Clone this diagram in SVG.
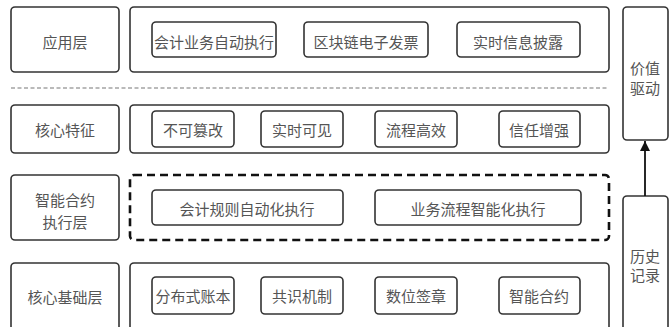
<svg xmlns="http://www.w3.org/2000/svg" width="672" height="327" viewBox="0 0 672 327">
<defs>
<style>
.b{fill:#fff;stroke:#333;stroke-width:1.6}
.i{fill:#fff;stroke:#333;stroke-width:1.6}
.t{font-family:"Noto Sans CJK SC","Noto Sans",sans-serif;font-size:15px;fill:#555;text-anchor:middle;dominant-baseline:central}
</style>
<marker id="ah" viewBox="0 0 10 10" refX="10" refY="5" markerWidth="10" markerHeight="12" markerUnits="userSpaceOnUse" orient="auto">
<path d="M0,0 L10,5 L0,10 z" fill="#111"/>
</marker>
</defs>
<rect width="672" height="327" fill="#fff"/>

<g id="app-layer">
<rect class="b" x="11" y="7" width="108" height="65" rx="4"/>
<text class="t" x="65" y="41">应用层</text>
<rect class="b" x="130" y="7" width="479" height="65" rx="4"/>
</g>
<g id="app-1"><rect class="i" x="152" y="22" width="124" height="35" rx="4"/><text class="t" x="214" y="41">会计业务自动执行</text></g>
<g id="app-2"><rect class="i" x="304" y="22" width="124" height="35" rx="4"/><text class="t" x="366" y="41">区块链电子发票</text></g>
<g id="app-3"><rect class="i" x="457" y="22" width="123" height="35" rx="4"/><text class="t" x="518" y="41">实时信息披露</text></g>

<line x1="11" y1="88" x2="609" y2="88" stroke="#777" stroke-width="1.2" stroke-dasharray="4,2.5"/>

<g id="core-feature">
<rect class="b" x="11" y="105" width="108" height="48" rx="4"/>
<text class="t" x="65" y="129">核心特征</text>
<rect class="b" x="130" y="105" width="479" height="48" rx="4"/>
</g>
<g id="cf-1"><rect class="i" x="152" y="111" width="82" height="36" rx="4"/><text class="t" x="193" y="129">不可篡改</text></g>
<g id="cf-2"><rect class="i" x="261" y="111" width="82" height="36" rx="4"/><text class="t" x="302" y="129">实时可见</text></g>
<g id="cf-3"><rect class="i" x="375" y="111" width="82" height="36" rx="4"/><text class="t" x="416" y="129">流程高效</text></g>
<g id="cf-4"><rect class="i" x="499" y="111" width="81" height="36" rx="4"/><text class="t" x="539" y="129">信任增强</text></g>

<g id="contract-layer">
<rect class="b" x="11" y="175" width="108" height="65" rx="4"/>
<text class="t" x="65" y="199">智能合约</text>
<text class="t" x="65" y="221">执行层</text>
<rect x="130" y="175" width="479" height="65" rx="4" fill="none" stroke="#111" stroke-width="2.6" stroke-dasharray="8,5"/>
</g>
<g id="ct-1"><rect class="i" x="152" y="190" width="191" height="35" rx="4"/><text class="t" x="247" y="208">会计规则自动化执行</text></g>
<g id="ct-2"><rect class="i" x="375" y="190" width="206" height="35" rx="4"/><text class="t" x="478" y="208">业务流程智能化执行</text></g>

<g id="base-layer">
<rect class="b" x="11" y="263" width="108" height="70" rx="4"/>
<text class="t" x="65" y="296">核心基础层</text>
<rect class="b" x="130" y="263" width="479" height="70" rx="4"/>
</g>
<g id="bs-1"><rect class="i" x="152" y="277" width="82" height="37" rx="4"/><text class="t" x="193" y="295">分布式账本</text></g>
<g id="bs-2"><rect class="i" x="261" y="277" width="82" height="37" rx="4"/><text class="t" x="302" y="295">共识机制</text></g>
<g id="bs-3"><rect class="i" x="375" y="277" width="82" height="37" rx="4"/><text class="t" x="416" y="295">数位签章</text></g>
<g id="bs-4"><rect class="i" x="499" y="277" width="81" height="37" rx="4"/><text class="t" x="539" y="295">智能合约</text></g>

<g id="value-driven">
<rect class="b" x="623" y="7" width="45" height="133" rx="4"/>
<text class="t" x="645" y="67">价值</text>
<text class="t" x="645" y="87">驱动</text>
</g>
<g id="history">
<rect class="b" x="623" y="196" width="45" height="137" rx="4"/>
<text class="t" x="645" y="255">历史</text>
<text class="t" x="645" y="274">记录</text>
</g>

<g id="connectors">
<line x1="645" y1="196" x2="645" y2="141" stroke="#111" stroke-width="1.8" marker-end="url(#ah)"/>
</g>
</svg>
